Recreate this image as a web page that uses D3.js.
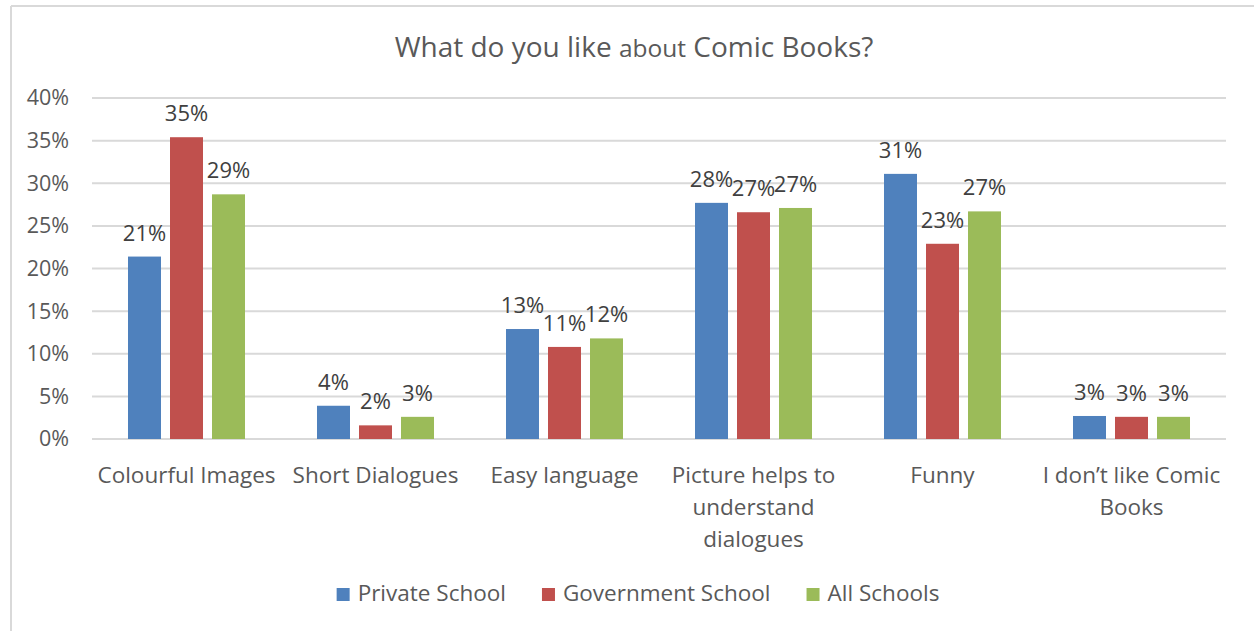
<!DOCTYPE html>
<html><head><meta charset="utf-8">
<script src="https://cdn.jsdelivr.net/npm/d3@7"></script>
<style>html,body{margin:0;padding:0;background:#fff;} svg{display:block;}</style>
</head><body>
<svg id="chart" width="1254" height="631"></svg>
<script>
const categories = [["Colourful Images"],["Short Dialogues"],["Easy language"],["Picture helps to","understand","dialogues"],["Funny"],["I don\u2019t like Comic","Books"]];
const seriesNames = ["Private School","Government School","All Schools"];
const seriesColors = ["#4f81bd","#c0504d","#9bbb59"];
const privateSchool = [0.214, 0.039, 0.129, 0.277, 0.311, 0.027];
const governmentSchool = [0.354, 0.016, 0.108, 0.266, 0.229, 0.026];
const allSchools = [0.287, 0.026, 0.118, 0.271, 0.267, 0.026];
const yTicks = [0,0.05,0.10,0.15,0.20,0.25,0.30,0.35,0.40];

(function(){
const series = [privateSchool, governmentSchool, allSchools];
const font = "'Open Sans', 'Noto Sans', sans-serif";
const svg = d3.select("#chart");

// border
svg.append("line").attr("x1",11).attr("x2",1254).attr("y1",6).attr("y2",6).attr("stroke","#d9d9d9").attr("stroke-width",2);
svg.append("line").attr("x1",11).attr("x2",11).attr("y1",6).attr("y2",631).attr("stroke","#d9d9d9").attr("stroke-width",2);

const pL=92, pR=1226, pT=98, pB=439;
const catIdx = categories.map((d,i)=>i);
const x0 = d3.scaleBand().domain(catIdx).range([pL,pR]).paddingInner(0).paddingOuter(0);
const x1 = d3.scaleBand().domain([0,1,2]).range([0,x0.bandwidth()]).paddingInner(0.2143).paddingOuter(0.857);
const y = d3.scaleLinear().domain([0,0.40]).range([pB,pT]);

// title
const title = svg.append("text").attr("x",634).attr("y",57).attr("text-anchor","middle")
  .attr("font-family",font).attr("fill","#595959").attr("font-size",28);
title.append("tspan").text("What do you like ");
title.append("tspan").attr("font-size",24.5).text("about");
title.append("tspan").text(" Comic Books?");

// gridlines
svg.append("g").selectAll("line").data(yTicks).join("line")
  .attr("x1",pL).attr("x2",pR).attr("y1",d=>y(d)).attr("y2",d=>y(d))
  .attr("stroke","#d9d9d9").attr("stroke-width",2);

// y axis labels
const yAxis = d3.axisLeft(y).tickValues(yTicks).tickFormat(d3.format(".0%")).tickSize(0).tickPadding(23);
const gy = svg.append("g").attr("transform",`translate(${pL},0)`).call(yAxis);
gy.select(".domain").remove();
gy.selectAll("text").attr("font-family",font).attr("font-size",21.5).attr("fill","#595959");

// bars
const fmt = d3.format(".0%");
series.forEach((vals,s)=>{
  const g = svg.append("g");
  g.selectAll("rect").data(vals).join("rect")
    .attr("x",(d,i)=>x0(i)+x1(s)).attr("width",x1.bandwidth())
    .attr("y",d=>y(d)).attr("height",d=>y(0)-y(d))
    .attr("fill",seriesColors[s]);
  g.selectAll("text").data(vals).join("text")
    .attr("x",(d,i)=>x0(i)+x1(s)+x1.bandwidth()/2)
    .attr("y",d=>y(d)-16)
    .attr("text-anchor","middle").attr("font-family",font).attr("font-size",22).attr("fill","#404040")
    .text(d=>fmt(d));
});

// category labels
const gx = svg.append("g");
categories.forEach((lines,i)=>{
  const t = gx.append("text").attr("x",x0(i)+x0.bandwidth()/2).attr("y",483)
    .attr("text-anchor","middle").attr("font-family",font).attr("font-size",22.5).attr("fill","#595959");
  lines.forEach((ln,k)=>t.append("tspan").attr("x",x0(i)+x0.bandwidth()/2).attr("dy",k===0?0:32).text(ln));
});

// legend
const lg = svg.append("g");
const items = seriesNames.map((n,i)=>{
  const g = lg.append("g");
  g.append("rect").attr("x",0).attr("y",-13).attr("width",13).attr("height",13).attr("fill",seriesColors[i]);
  const t = g.append("text").attr("x",21).attr("y",0).attr("font-family",font).attr("font-size",22.5).attr("fill","#595959").text(n);
  return {g, w: 21 + t.node().getComputedTextLength()};
});
const gap = 36;
const total = d3.sum(items,d=>d.w) + gap*(items.length-1);
let cx = 638 - total/2;
items.forEach(it=>{ it.g.attr("transform",`translate(${cx},601)`); cx += it.w + gap; });
})();
</script>
</body></html>
